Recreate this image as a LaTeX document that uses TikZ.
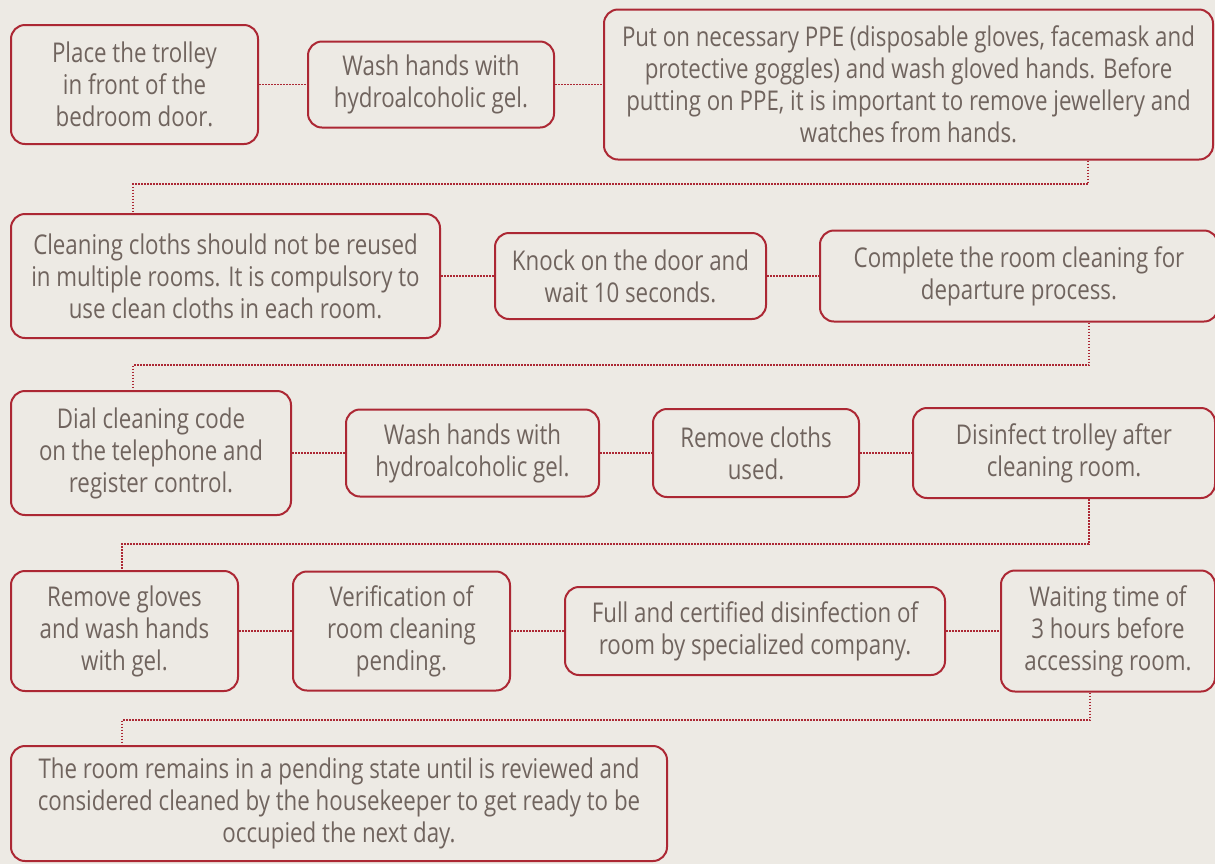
\documentclass[tikz,border=0pt]{standalone}
\usepackage{fontspec}
\setmainfont{Open Sans}[FakeStretch=0.82]
\usetikzlibrary{positioning}
\definecolor{boxred}{RGB}{172,40,52}
\definecolor{txtgray}{RGB}{112,100,94}
\definecolor{paper}{RGB}{237,234,228}
\tikzset{
    stepbox/.style={draw=boxred, line width=1pt, rounded corners=7pt, text=txtgray, align=center, inner sep=0pt, font=\fontsize{13.6}{16}\selectfont},
    link/.style={boxred, line width=0.8pt, dash pattern=on 0.8pt off 0.7pt}
}

\begin{document}
\begin{tikzpicture}[x=0.5pt, y=-0.5pt]
    \fill[paper] (0,0) rectangle (1215,864);
    \useasboundingbox (0,0) rectangle (1215,864);
    % row 1
    \node[stepbox, anchor=north west, minimum width=123.5pt, minimum height=59.5pt] (trolley) at (10,24) {Place the trolley\\in front of the\\bedroom door.};
    \node[stepbox, right=24pt of trolley, minimum width=123pt, minimum height=43pt] (washA) {Wash hands with\\hydroalcoholic gel.};
    \node[stepbox, right=24pt of washA, minimum width=304.5pt, minimum height=75pt] (ppe) {Put on necessary PPE (disposable gloves, facemask and\\protective goggles) and wash gloved hands. Before\\putting on PPE, it is important to remove jewellery and\\watches from hands.};
    % row 2
    \node[stepbox, anchor=north west, minimum width=214.5pt, minimum height=62pt] (cloths) at (10,213) {Cleaning cloths should not be reused\\in multiple rooms. It is compulsory to\\use clean cloths in each room.};
    \node[stepbox, right=26.5pt of cloths, minimum width=135.5pt, minimum height=43pt] (knock) {Knock on the door and\\wait 10 seconds.};
    \node[stepbox, right=26pt of knock, minimum width=199pt, minimum height=45.5pt] (complete) {Complete the room cleaning for\\departure process.};
    % row 3
    \node[stepbox, anchor=north west, minimum width=140pt, minimum height=62pt] (dial) at (10,390) {Dial cleaning code\\on the telephone and\\register control.};
    \node[stepbox, right=26.5pt of dial, minimum width=126.5pt, minimum height=43.5pt] (washB) {Wash hands with\\hydroalcoholic gel.};
    \node[stepbox, right=26pt of washB, minimum width=103pt, minimum height=44pt] (remove) {Remove cloths\\used.};
    \node[stepbox, right=26pt of remove, minimum width=151pt, minimum height=45pt] (disinfect) {Disinfect trolley after\\cleaning room.};
    % row 4
    \node[stepbox, anchor=north west, minimum width=113.5pt, minimum height=60pt] (gloves) at (10,570) {Remove gloves\\and wash hands\\with gel.};
    \node[stepbox, right=26.5pt of gloves, minimum width=108.5pt, minimum height=59.5pt] (verify) {Verification of\\room cleaning\\pending.};
    \node[stepbox, right=26.5pt of verify, minimum width=190pt, minimum height=44pt] (certified) {Full and certified disinfection of\\room by specialized company.};
    \node[stepbox, right=27pt of certified, minimum width=107pt, minimum height=60.5pt] (waiting) {Waiting time of\\3 hours before\\accessing room.};
    % row 5
    \node[stepbox, anchor=north west, minimum width=328pt, minimum height=57.5pt] (pending) at (10,745) {The room remains in a pending state until is reviewed and\\considered cleaned by the housekeeper to get ready to be\\occupied the next day.};

    % links inside rows
    \draw[link] (trolley) -- (washA);
    \draw[link] (washA) -- (ppe);
    \draw[link] (cloths) -- (knock);
    \draw[link] (knock) -- (complete);
    \draw[link] (dial) -- (washB);
    \draw[link] (washB) -- (remove);
    \draw[link] (remove) -- (disinfect);
    \draw[link] (gloves) -- (verify);
    \draw[link] (verify) -- (certified);
    \draw[link] (certified) -- (waiting);

    % links between rows
    \coordinate (turnA) at (1088,184);
    \coordinate (backA) at (133,184);
    \draw[link] (ppe.south -| turnA) -- (turnA) -- (backA) -- (cloths.north -| backA);
    \coordinate (turnB) at (1089,365);
    \coordinate (backB) at (133,365);
    \draw[link] (complete.south -| turnB) -- (turnB) -- (backB) -- (dial.north -| backB);
    \coordinate (turnC) at (1089,544);
    \coordinate (backC) at (122,544);
    \draw[link] (disinfect.south -| turnC) -- (turnC) -- (backC) -- (gloves.north -| backC);
    \coordinate (turnD) at (1090,720);
    \coordinate (backD) at (122,720);
    \draw[link] (waiting.south -| turnD) -- (turnD) -- (backD) -- (pending.north -| backD);
\end{tikzpicture}
\end{document}
